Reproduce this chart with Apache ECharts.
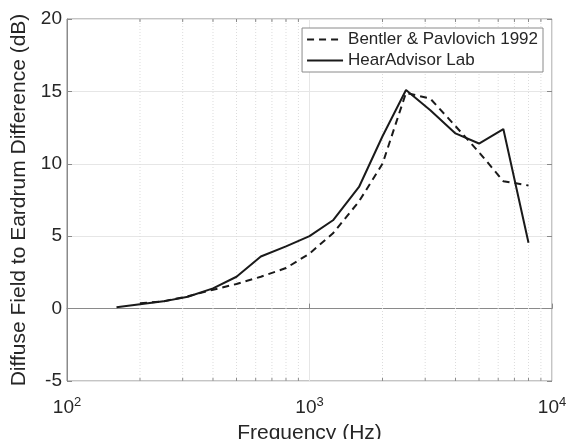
<!DOCTYPE html>
<html><head><meta charset="utf-8">
<script src="https://cdn.jsdelivr.net/npm/echarts@6/dist/echarts.min.js"></script>
<style>html,body{margin:0;padding:0;background:#fff}#c{width:574px;height:439px}</style>
</head><body><div id="c"></div>
<script>
const freqBentler = [200,250,315,400,500,630,800,1000,1250,1600,2000,2500,3150,4000,5000,6300,8000];
const bentler = [0.37,0.5,0.85,1.3,1.7,2.2,2.8,3.8,5.2,7.4,10.0,14.9,14.5,12.6,10.8,8.8,8.5];
const freqLab = [160,200,250,315,400,500,630,800,1000,1250,1600,2000,2500,3150,4000,5000,6300,8000];
const lab = [0.1,0.3,0.5,0.82,1.4,2.2,3.6,4.3,5.0,6.1,8.4,11.9,15.1,13.7,12.1,11.4,12.4,4.55];
const minorFreqs = [200,300,400,500,600,700,800,900,2000,3000,4000,5000,6000,7000,8000,9000];
const seriesNames = ['Bentler & Pavlovich 1992','HearAdvisor Lab'];

const FONT = 'Liberation Sans';
const TXT = '#262626';
const chart = echarts.init(document.getElementById('c'), null, {renderer:'canvas'});
chart.setOption({
  animation:false,
  backgroundColor:'#fff',
  textStyle:{fontFamily:FONT},
  grid:{left:67,right:22,top:19,bottom:58,show:true,borderColor:'#8a8a8a',borderWidth:1,
    containLabel:false,outerBoundsMode:'none'},
  legend:{
    orient:'vertical',right:31,top:28,padding:[3,5,3,4],itemGap:4,itemWidth:36,itemHeight:18,
    itemStyle:{opacity:0},
    borderColor:'#8a8a8a',borderWidth:1,backgroundColor:'#fff',borderRadius:0,
    textStyle:{fontFamily:FONT,fontSize:17,color:TXT},
    data:seriesNames
  },
  xAxis:{
    type:'log',logBase:10,min:100,max:10000,
    name:'Frequency (Hz)',nameLocation:'middle',nameGap:42,
    nameTextStyle:{fontFamily:FONT,fontSize:21,color:TXT},
    axisLine:{show:true,lineStyle:{color:'#8a8a8a'}},
    axisTick:{show:true,inside:true,length:5,lineStyle:{color:'#8a8a8a'}},
    splitLine:{show:true,lineStyle:{color:'#e6e6e6',width:1}},
    axisLabel:{fontFamily:FONT,fontSize:19,color:TXT,margin:15,
      formatter:function(v){return '10{s|'+Math.round(Math.log10(v))+'}';},
      rich:{s:{fontSize:13,fontFamily:FONT,color:TXT,verticalAlign:'top',padding:[0,0,10,0]}}}
  },
  yAxis:[{
    type:'value',min:-5,max:20,interval:5,
    name:'Diffuse Field to Eardrum Difference (dB)',nameLocation:'middle',nameGap:28,
    nameTextStyle:{fontFamily:FONT,fontSize:21,color:TXT},
    axisLine:{show:true,lineStyle:{color:'#8a8a8a'}},
    axisTick:{show:true,inside:true,length:5,lineStyle:{color:'#8a8a8a'}},
    splitLine:{show:true,lineStyle:{color:'#e6e6e6',width:1}},
    axisLabel:{fontFamily:FONT,fontSize:19,color:TXT,margin:5}
  },{
    type:'value',min:-5,max:20,interval:5,position:'right',
    axisLine:{show:false},axisLabel:{show:false},splitLine:{show:false},
    axisTick:{show:true,inside:true,length:5,lineStyle:{color:'#8a8a8a'}}
  }],
  series:[
    {
      type:'custom',silent:true,z:1,
      data:minorFreqs.map(f=>[f]),
      renderItem:function(params,api){
        const f=api.value(0);
        const b=api.coord([f,-5]), t=api.coord([f,20]);
        return {type:'group',children:[
          {type:'line',shape:{x1:b[0],y1:b[1],x2:t[0],y2:t[1]},style:{stroke:'#dcdcdc',lineWidth:1,lineDash:[1,2]}},
          {type:'line',shape:{x1:b[0],y1:b[1],x2:b[0],y2:b[1]-3},style:{stroke:'#8a8a8a',lineWidth:1}},
          {type:'line',shape:{x1:t[0],y1:t[1],x2:t[0],y2:t[1]+3},style:{stroke:'#8a8a8a',lineWidth:1}}
        ]};
      }
    },
    {
      name:seriesNames[0],type:'line',z:3,symbol:'none',showSymbol:false,
      data:freqBentler.map((f,i)=>[f,bentler[i]]),
      lineStyle:{color:'#1a1a1a',width:2,type:[7,5]},itemStyle:{color:'#1a1a1a'}
    },
    {
      name:seriesNames[1],type:'line',z:4,symbol:'none',showSymbol:false,
      data:freqLab.map((f,i)=>[f,lab[i]]),
      lineStyle:{color:'#1a1a1a',width:2,type:'solid'},itemStyle:{color:'#1a1a1a'}
    }
  ]
});
</script></body></html>
